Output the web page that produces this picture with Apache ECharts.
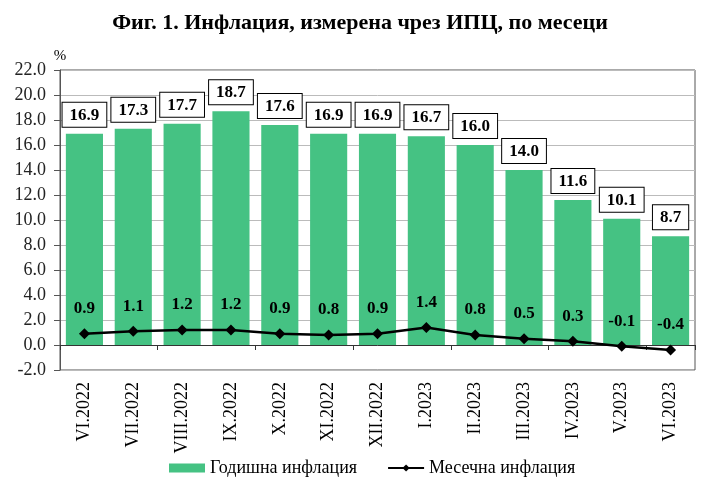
<!DOCTYPE html>
<html><head><meta charset="utf-8">
<script src="https://cdn.jsdelivr.net/npm/echarts@6/dist/echarts.min.js"></script>
<style>html,body{margin:0;padding:0;background:#fff}#c{width:720px;height:492px}</style>
</head><body><div id="c"></div>
<script>
const categories = ['VI.2022','VII.2022','VIII.2022','IX.2022','X.2022','XI.2022','XII.2022','I.2023','II.2023','III.2023','IV.2023','V.2023','VI.2023'];
const annualInflation = [16.9, 17.3, 17.7, 18.7, 17.6, 16.9, 16.9, 16.7, 16.0, 14.0, 11.6, 10.1, 8.7];
const monthlyInflation = [0.9, 1.1, 1.2, 1.2, 0.9, 0.8, 0.9, 1.4, 0.8, 0.5, 0.3, -0.1, -0.4];
const seriesNames = ['Годишна инфлация', 'Месечна инфлация'];
const titleText = 'Фиг. 1. Инфлация, измерена чрез ИПЦ, по месеци';

const F = 'Liberation Serif, Times New Roman, serif';
const chart = echarts.init(document.getElementById('c'), null, {renderer:'canvas'});
chart.setOption({
  animation: false,
  backgroundColor: '#fff',
  title: {text: titleText, left: 'center', top: 7,
    textStyle: {fontFamily: F, fontSize: 22, fontWeight: 'bold', color: '#000'}},
  grid: {left: 60, right: 25, top: 70, bottom: 122, show: true, borderColor: '#555', borderWidth: 1},
  legend: {
    data: [{name: seriesNames[0], icon: 'rect'}, {name: seriesNames[1]}],
    bottom: 10, left: 164, itemGap: 30, itemWidth: 36, itemHeight: 9,
    textStyle: {fontFamily: F, fontSize: 18, color: '#000'}
  },
  xAxis: [{
    type: 'category', data: categories, position: 'bottom',
    axisLine: {show: false, onZero: false}, axisTick: {show: false},
    axisLabel: {rotate: 90, fontFamily: F, fontSize: 18, color: '#000', margin: 12}
  }, {
    type: 'category', data: categories, position: 'bottom',
    axisLine: {show: true, onZero: true, lineStyle: {color: '#333', width: 1}},
    axisTick: {show: true, inside: false, length: 5, lineStyle: {color: '#333'}},
    axisLabel: {show: false}
  }],
  yAxis: {
    type: 'value', min: -2, max: 22, interval: 2,
    name: '%', nameLocation: 'end', nameGap: 6,
    nameTextStyle: {fontFamily: F, fontSize: 15, color: '#000', align: 'center'},
    axisLine: {show: true, lineStyle: {color: '#555'}},
    axisTick: {show: true, length: 6, lineStyle: {color: '#555'}},
    axisLabel: {fontFamily: F, fontSize: 18, color: '#222', margin: 14,
      formatter: v => v.toFixed(1)},
    splitLine: {show: true, lineStyle: {color: '#bbb', width: 1}}
  },
  series: [{
    name: seriesNames[0], type: 'bar', data: annualInflation, barWidth: '76%',
    itemStyle: {color: '#45c283'},
    label: {show: true, position: 'top', distance: 7, formatter: p => p.value.toFixed(1),
      fontFamily: F, fontSize: 17, fontWeight: 'bold', color: '#000',
      backgroundColor: '#fff', borderColor: '#000', borderWidth: 1, padding: [4, 7, 3, 7]}
  }, {
    name: seriesNames[1], type: 'line', data: monthlyInflation, xAxisIndex: 0,
    symbol: 'diamond', symbolSize: 11, z: 5,
    lineStyle: {color: '#000', width: 2.5}, itemStyle: {color: '#000'},
    label: {show: true, position: 'top', distance: 11, formatter: p => p.value.toFixed(1),
      fontFamily: F, fontSize: 17, fontWeight: 'bold', color: '#000'}
  }]
});
</script></body></html>
